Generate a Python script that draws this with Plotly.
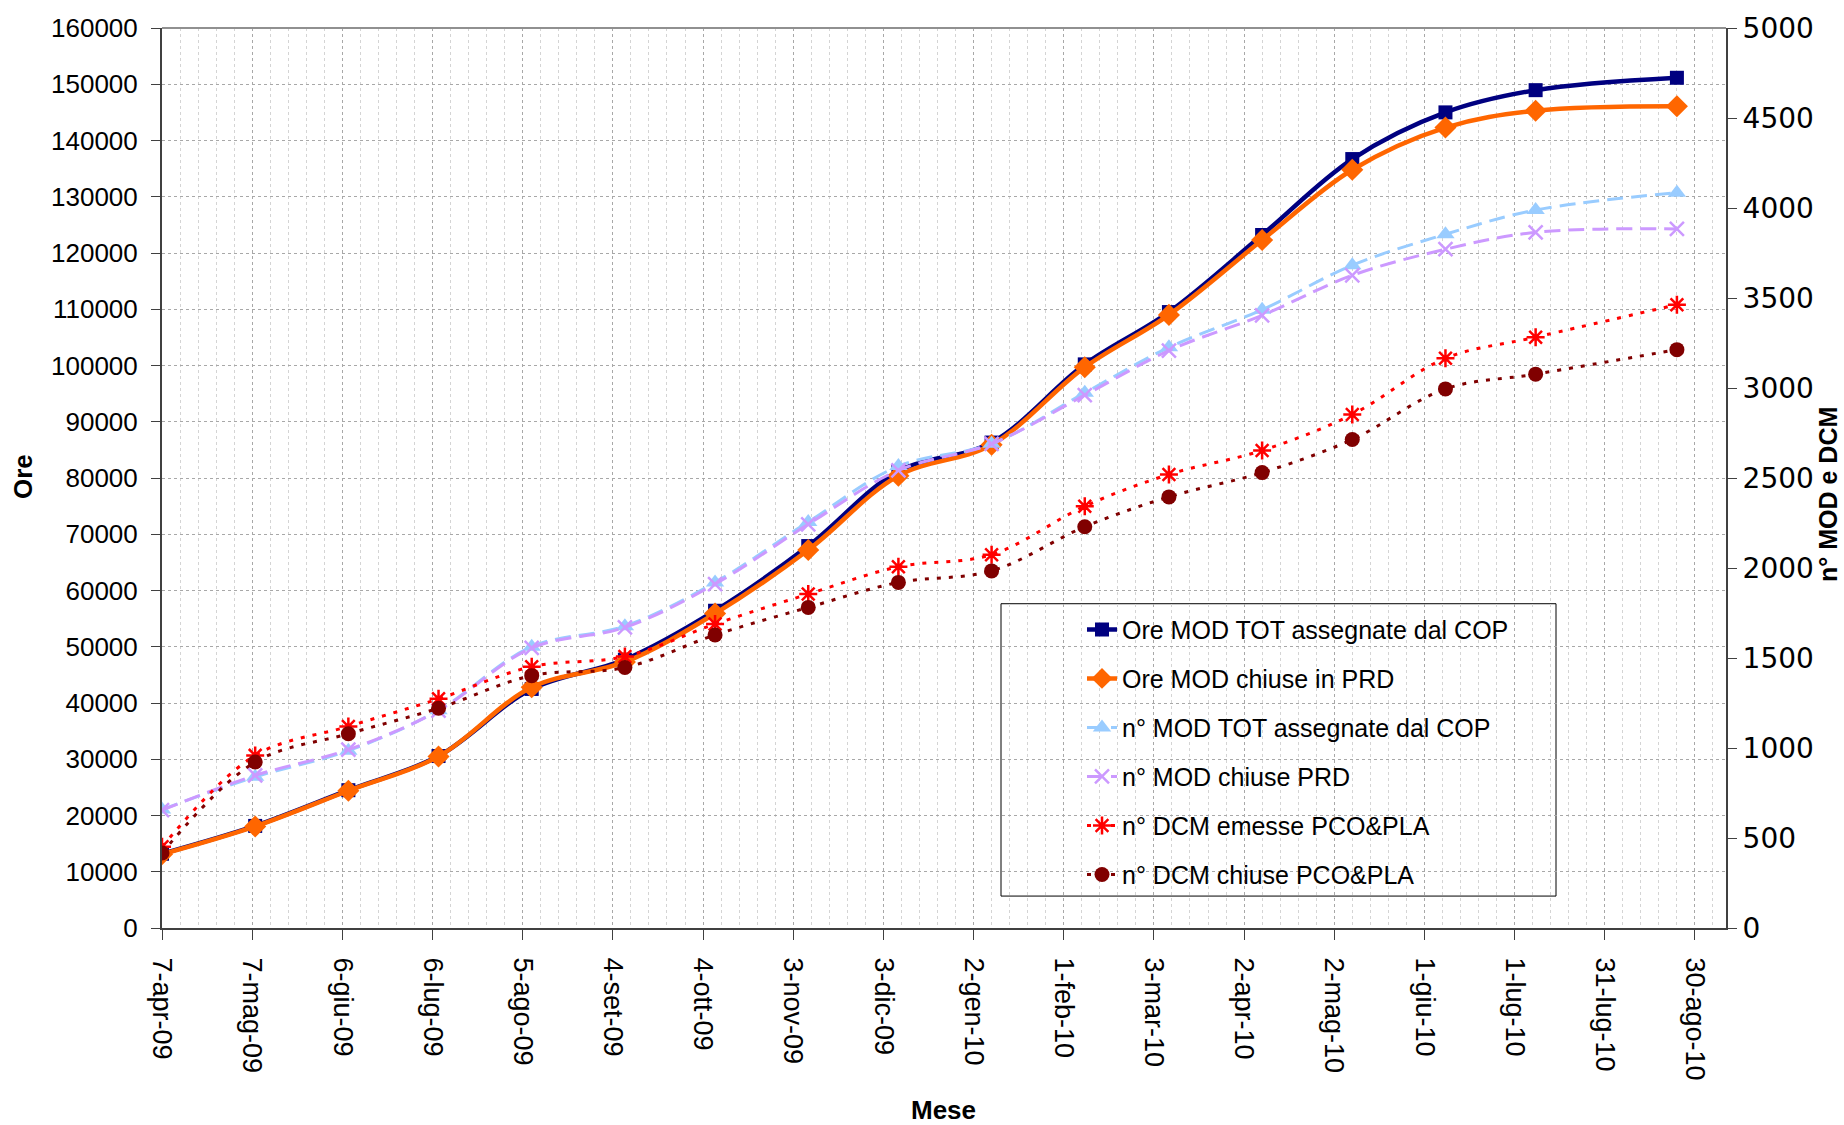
import plotly.graph_objects as go

# ---- data ----
dates = ["2009-04-07", "2009-05-08", "2009-06-08", "2009-07-08", "2009-08-08",
         "2009-09-08", "2009-10-08", "2009-11-08", "2009-12-08", "2010-01-08",
         "2010-02-08", "2010-03-08", "2010-04-08", "2010-05-08", "2010-06-08",
         "2010-07-08", "2010-08-24"]

ore_mod_tot = [13200, 18150, 24500, 30570, 42500, 47700, 56400, 67900, 81200, 86300,
               100200, 109500, 123200, 136700, 145000, 148950, 151150]
ore_mod_chiuse = [13100, 18050, 24400, 30500, 42800, 47300, 55900, 67200, 80400, 85900,
                  99700, 109000, 122300, 134800, 142300, 145300, 146100]
n_mod_tot = [658, 840, 985, 1210, 1563, 1677, 1920, 2256, 2566, 2690,
             2973, 3226, 3435, 3682, 3854, 3989, 4085]
n_mod_chiuse = [655, 848, 991, 1208, 1556, 1670, 1911, 2243, 2543, 2690,
                2960, 3208, 3404, 3626, 3771, 3865, 3884]
n_dcm_emesse = [451, 959, 1120, 1273, 1452, 1508, 1689, 1855, 2007, 2074,
                2343, 2520, 2653, 2853, 3165, 3282, 3463]
n_dcm_chiuse = [417, 922, 1079, 1221, 1402, 1447, 1628, 1781, 1920, 1984,
                2229, 2395, 2530, 2714, 2995, 3077, 3213]

tick_dates = ["2009-04-07", "2009-05-07", "2009-06-06", "2009-07-06", "2009-08-05",
              "2009-09-04", "2009-10-04", "2009-11-03", "2009-12-03", "2010-01-02",
              "2010-02-01", "2010-03-03", "2010-04-02", "2010-05-02", "2010-06-01",
              "2010-07-01", "2010-07-31", "2010-08-30"]
tick_labels = ["7-apr-09", "7-mag-09", "6-giu-09", "6-lug-09", "5-ago-09", "4-set-09",
               "4-ott-09", "3-nov-09", "3-dic-09", "2-gen-10", "1-feb-10", "3-mar-10",
               "2-apr-10", "2-mag-10", "1-giu-10", "1-lug-10", "31-lug-10", "30-ago-10"]

FONT = "Liberation Sans, Arial, sans-serif"

fig = go.Figure()

fig.add_trace(go.Scatter(
    x=dates, y=ore_mod_tot, name="Ore MOD TOT assegnate dal COP", legendgroup="g1",
    mode="lines+markers", line=dict(color="#000080", width=4.5, shape="spline"),
    marker=dict(symbol="square", size=14, color="#000080")))
fig.add_trace(go.Scatter(
    x=dates, y=ore_mod_chiuse, name="Ore MOD chiuse in PRD", legendgroup="g2",
    mode="lines+markers", line=dict(color="#FF6600", width=4.5, shape="spline"),
    marker=dict(symbol="diamond", size=17, color="#FF6600")))
fig.add_trace(go.Scatter(
    x=dates, y=n_mod_tot, name="n° MOD TOT assegnate dal COP", legendgroup="g3",
    yaxis="y2", mode="lines+markers",
    line=dict(color="#99CCFF", width=3, dash="16px,8px", shape="spline"),
    marker=dict(symbol="triangle-up", size=16, color="#99CCFF")))
fig.add_trace(go.Scatter(
    x=dates, y=n_mod_chiuse, name="n° MOD chiuse PRD", legendgroup="g4",
    yaxis="y2", mode="lines+markers",
    line=dict(color="#CC99FF", width=3, dash="16px,8px", shape="spline"),
    marker=dict(symbol="x-thin", size=14, color="#CC99FF",
                line=dict(color="#CC99FF", width=2.5))))
fig.add_trace(go.Scatter(
    x=dates, y=n_dcm_emesse, name="n° DCM emesse PCO&PLA", legendgroup="g5",
    yaxis="y2", mode="lines+markers",
    line=dict(color="#FF0000", width=3, dash="4px,8px", shape="spline"),
    marker=dict(symbol="asterisk-open", size=15, color="#FF0000",
                line=dict(color="#FF0000", width=2.5))))
fig.add_trace(go.Scatter(
    x=dates, y=n_dcm_chiuse, name="n° DCM chiuse PCO&PLA", legendgroup="g6",
    yaxis="y2", mode="lines+markers",
    line=dict(color="#800000", width=3, dash="4px,8px", shape="spline"),
    marker=dict(symbol="circle", size=15, color="#800000")))

L, R, T, B = 162, 118, 26, 197
W, H = 1844, 1125
PW, PH = W - L - R, H - T - B


def px_x(p):
    return (p - L) / PW


def px_y(p):
    return (H - B - p) / PH


fig.update_layout(
    width=W, height=H,
    margin=dict(l=L, r=R, t=T, b=B, pad=0),
    paper_bgcolor="white", plot_bgcolor="white",
    font=dict(family=FONT, color="black"),
    showlegend=True,
    legend=dict(
        x=px_x(1082), y=px_y(606), xanchor="left", yanchor="top",
        bgcolor="rgba(0,0,0,0)", borderwidth=0,
        font=dict(family=FONT, size=25, color="black"),
        traceorder="grouped", tracegroupgap=13.5,
    ),
    xaxis=dict(
        type="date",
        range=["2009-04-07", "2010-09-09 08:00"],
        tickmode="array", tickvals=tick_dates, ticktext=tick_labels,
        tickangle=90, tickfont=dict(family=FONT, size=27),
        ticks="outside", ticklen=10, tickcolor="#404040", tickwidth=1,
        ticklabelstandoff=12,
        showline=True, linecolor="#404040", linewidth=2,
        showgrid=True, gridcolor="#a8a8a8", griddash="dot", gridwidth=1,
        minor=dict(tickmode="linear", tick0="2009-04-07", dtick=6 * 86400000,
                   showgrid=True, gridcolor="#d4d4d4", griddash="dot", gridwidth=1,
                   ticks=""),
        zeroline=False,
    ),
    yaxis=dict(
        range=[0, 160000], dtick=10000, tick0=0, tickformat="d",
        tickfont=dict(family=FONT, size=26),
        ticks="outside", ticklen=9, tickcolor="#404040",
        ticklabelstandoff=8,
        showline=True, linecolor="#404040", linewidth=2,
        showgrid=True, gridcolor="#a8a8a8", griddash="dot", gridwidth=1,
        zeroline=False,
    ),
    yaxis2=dict(
        range=[0, 5000], dtick=500, tick0=0, overlaying="y", side="right",
        tickformat="d",
        tickfont=dict(family="DejaVu Sans, sans-serif", size=28),
        ticks="outside", ticklen=9, tickcolor="#404040",
        showline=True, linecolor="#404040", linewidth=2,
        showgrid=False, zeroline=False,
    ),
    shapes=[
        dict(type="rect", xref="paper", yref="paper",
             x0=px_x(1001), x1=px_x(1556), y0=px_y(896), y1=px_y(603),
             fillcolor="white", line=dict(color="black", width=1), layer="between"),
        dict(type="line", xref="paper", yref="paper", x0=0, x1=1, y0=1, y1=1,
             line=dict(color="#909090", width=2)),
    ],
    annotations=[
        dict(text="<b>Ore</b>", xref="paper", yref="paper", x=px_x(23), y=px_y(476),
             textangle=-90, showarrow=False, font=dict(family=FONT, size=26),
             xanchor="center", yanchor="middle"),
        dict(text="<b>Mese</b>", xref="paper", yref="paper", x=px_x(943), y=px_y(1110),
             showarrow=False, font=dict(family=FONT, size=26),
             xanchor="center", yanchor="middle"),
        dict(text="<b>n° MOD e DCM</b>", xref="paper", yref="paper", x=px_x(1843), y=px_y(494),
             textangle=-90, showarrow=False, font=dict(family=FONT, size=25),
             xanchor="right", yanchor="middle", borderpad=0),
    ],
)

fig.write_html("out.html")
